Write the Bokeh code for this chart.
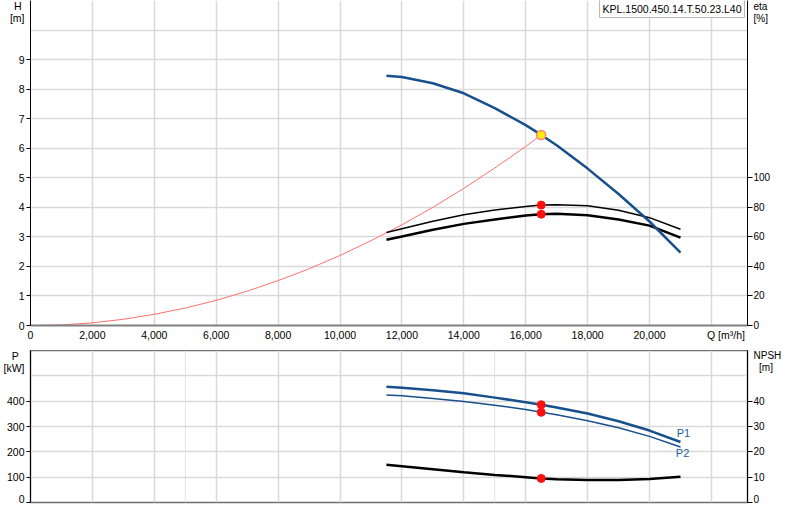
from bokeh.plotting import figure
from bokeh.models import Range1d, LinearAxis, FixedTicker, Label, Grid
from bokeh.layouts import column
from bokeh.embed import file_html
from bokeh.resources import INLINE

# ---- data ----
Q = [11500, 12000, 13000, 14000, 15000, 16000, 16500, 17000, 18000, 19000, 20000, 21000]
H = [8.45, 8.41, 8.20, 7.86, 7.36, 6.78, 6.45, 6.10, 5.31, 4.45, 3.52, 2.47]
ETA_PUMP = [62.9, 65.5, 70.5, 75.0, 78.2, 80.6, 81.5, 81.7, 81.0, 78.0, 73.0, 65.2]
ETA_TOTAL = [58.0, 60.2, 64.8, 68.8, 71.8, 74.4, 75.3, 75.6, 74.6, 71.8, 67.6, 59.5]
P1 = [457, 453, 443, 431, 414, 396, 386, 375, 351, 321, 284, 239]
P2 = [424, 421, 411, 399, 384, 367, 356, 346, 323, 295, 261, 219]
NPSH = [14.9, 14.3, 13.1, 11.9, 10.9, 10.0, 9.5, 9.2, 8.9, 8.9, 9.3, 10.2]

Q_SYS = [0, 1000, 2000, 3000, 4000, 5000, 6000, 7000, 8000, 9000, 10000,
         11000, 12000, 13000, 14000, 15000, 16000, 16500]
H_SYS = [0, 0.02, 0.09, 0.21, 0.38, 0.59, 0.85, 1.16, 1.52, 1.92, 2.37,
         2.87, 3.41, 4.00, 4.64, 5.33, 6.06, 6.45]

Q_DUTY = [16500]
H_DUTY = [6.45]
ETA_DUTY = [81.5, 75.3]
P_DUTY = [386, 356]
NPSH_DUTY = [9.5]

X_TICKS = [0, 2000, 4000, 6000, 8000, 10000, 12000, 14000, 16000, 18000, 20000]
X_TICK_LABELS = ["0", "2,000", "4,000", "6,000", "8,000", "10,000", "12,000",
                 "14,000", "16,000", "18,000", "20,000"]
X_TITLE = "Q [m³/h]"
X_GRID = X_TICKS + [22000]
H_TICKS = [0, 1, 2, 3, 4, 5, 6, 7, 8, 9]
H_GRID = H_TICKS + [10]
H_TITLE = ["H\u00a0", "[m]"]
ETA_TICKS = [0, 20, 40, 60, 80, 100]
ETA_TITLE = ["eta", "[%]"]
P_TICKS = [0, 100, 200, 300, 400]
P_GRID = P_TICKS + [500]
P_TITLE = ["P\u00a0\u00a0", "[kW]"]
NPSH_TICKS = [0, 10, 20, 30, 40]
NPSH_TITLE = ["NPSH", "\u00a0\u00a0[m]"]
MODEL = "KPL.1500.450.14.T.50.23.L40"

BLUE = "#17508c"
GRID = "#d9d9d9"
FONT = "Liberation Sans"
FS = "10.5px"
Q_MAX = 23165
Q_TITLE_POS = 22470
W = 784
LEFT = 30
RIGHT = 34


def y_axis(ax, ticks, title, title_pos, tick_out, standoff, size=FS):
    """Axis whose tick marks are the minor ticks; the title sits in two extra labels."""
    ax.ticker = FixedTicker(ticks=ticks + title_pos, minor_ticks=ticks)
    ax.major_label_overrides = {float(v): t for v, t in zip(title_pos, title)}
    ax.axis_line_color = "black"
    ax.major_tick_line_color = None
    ax.major_tick_out = 0
    ax.major_tick_in = 0
    ax.minor_tick_line_color = "black"
    ax.minor_tick_out = tick_out
    ax.minor_tick_in = 0
    ax.major_label_text_font = FONT
    ax.major_label_text_font_size = size
    ax.major_label_text_color = "#000000"
    ax.major_label_standoff = standoff


def grid_style(g):
    g.grid_line_color = GRID
    g.grid_line_width = 1.5


# ---- top chart: H / eta ----
p = figure(width=W, height=350, x_range=Range1d(0, Q_MAX), y_range=Range1d(0, 11),
           output_backend="svg", toolbar_location=None,
           min_border_left=LEFT, min_border_right=RIGHT, min_border_top=0, min_border_bottom=25)
p.outline_line_color = None
p.extra_y_ranges = {"eta": Range1d(0, 220)}
eta_axis = LinearAxis(y_range_name="eta")
p.add_layout(eta_axis, "right")

y_axis(p.yaxis[0], H_TICKS, H_TITLE, [10.80, 10.40], 4, 2)
y_axis(eta_axis, ETA_TICKS, ETA_TITLE, [216.0, 208.0], 5, 1, size="10px")

xa = p.xaxis[0]
xa.ticker = FixedTicker(ticks=X_TICKS + [Q_TITLE_POS])
labels = {float(k): v for k, v in zip(X_TICKS, X_TICK_LABELS)}
labels[float(Q_TITLE_POS)] = X_TITLE
xa.major_label_overrides = labels
xa.axis_line_color = "#808080"
xa.axis_line_width = 2
xa.major_tick_line_color = None
xa.minor_tick_line_color = None
xa.major_tick_out = 0
xa.major_label_standoff = 3
xa.major_label_text_font = FONT
xa.major_label_text_font_size = FS
xa.major_label_text_color = "#000000"

p.xgrid.ticker = FixedTicker(ticks=X_GRID)
p.ygrid.ticker = FixedTicker(ticks=H_GRID)
grid_style(p.xgrid[0])
grid_style(p.ygrid[0])

p.line(Q_SYS, H_SYS, line_color="#ff7070", line_width=1)
p.line(Q, ETA_PUMP, y_range_name="eta", line_color="black", line_width=1.5)
p.line(Q, ETA_TOTAL, y_range_name="eta", line_color="black", line_width=2.5)
p.line(Q, H, line_color=BLUE, line_width=2.5)
p.scatter(Q_DUTY * 2, ETA_DUTY, y_range_name="eta", size=8, fill_color="#ff1010", line_color="#ff1010")
p.scatter(Q_DUTY, H_DUTY, size=9, fill_color="#ffee00", line_color="#ff8080", line_width=1.5)

p.add_layout(Label(x=Q_MAX, y=11, text=MODEL, x_offset=-1, y_offset=-1,
                   text_align="right", text_baseline="top", text_font=FONT,
                   text_font_size="10.5px", text_alpha=0, padding=3,
                   background_fill_color="#a8a8a8"))
p.add_layout(Label(x=Q_MAX, y=11, text=MODEL, x_offset=-3, y_offset=1,
                   text_align="right", text_baseline="top", text_font=FONT,
                   text_font_size="10.5px", text_color="#000000", padding=3,
                   background_fill_color="white", border_line_color="#b8b8b8"))

# ---- bottom chart: P / NPSH ----
b = figure(width=W, height=154, x_range=p.x_range, y_range=Range1d(0, 600),
           output_backend="svg", toolbar_location=None, x_axis_location=None,
           min_border_left=LEFT, min_border_right=RIGHT, min_border_top=0, min_border_bottom=2)
b.outline_line_color = "#707070"
b.outline_line_width = 1.5
b.extra_y_ranges = {"npsh": Range1d(0, 60)}
npsh_axis = LinearAxis(y_range_name="npsh")
b.add_layout(npsh_axis, "right")
y_axis(b.yaxis[0], P_TICKS, P_TITLE, [580.0, 531.0], 4, 2)
y_axis(npsh_axis, NPSH_TICKS, NPSH_TITLE, [58.0, 53.2], 5, 1, size="10px")

b.ygrid.ticker = FixedTicker(ticks=P_GRID)
grid_style(b.ygrid[0])
b.add_layout(Grid(dimension=0, ticker=FixedTicker(ticks=X_GRID),
                  grid_line_color=GRID, grid_line_width=1.5))

b.line(Q, NPSH, y_range_name="npsh", line_color="black", line_width=2.5)
b.line(Q, P2, line_color=BLUE, line_width=1.5)
b.line(Q, P1, line_color=BLUE, line_width=2.5)
b.scatter(Q_DUTY * 2, P_DUTY, size=8, fill_color="#ff1010", line_color="#ff1010")
b.scatter(Q_DUTY, NPSH_DUTY, y_range_name="npsh", size=8, fill_color="#ff1010", line_color="#ff1010")

b.add_layout(Label(x=20880, y=276, text="P1", text_align="left", text_baseline="middle",
                   text_font=FONT, text_font_size="11px", text_color="#1f5fa0"))
b.add_layout(Label(x=20850, y=196, text="P2", text_align="left", text_baseline="middle",
                   text_font=FONT, text_font_size="11px", text_color="#1f5fa0"))

layout = column(p, b, spacing=0)
open("out.html", "w").write(file_html(layout, INLINE))
